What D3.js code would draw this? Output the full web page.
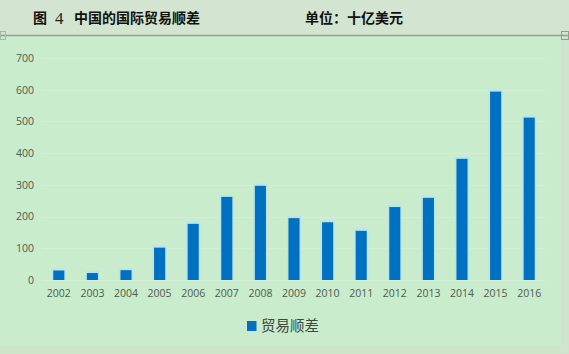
<!DOCTYPE html>
<html><head><meta charset="utf-8">
<script src="https://cdn.jsdelivr.net/npm/d3@7/dist/d3.min.js"></script>
<style>
html,body{margin:0;padding:0;background:#d2e6cf;}
svg{display:block;}
</style></head>
<body>
<svg id="chart" width="569" height="354"></svg>
<script>
const years = ["2002","2003","2004","2005","2006","2007","2008","2009","2010","2011","2012","2013","2014","2015","2016"];
const surplus = [30, 22, 31, 102, 177, 262, 297, 195, 182, 155, 230, 259, 382, 594, 512];
const yTicks = [0,100,200,300,400,500,600,700];
const seriesName = "贸易顺差";
const titleFig = "图";
const titleNum = "4";
const titleMain = "中国的国际贸易顺差";
const titleRight = "单位：十亿美元";

const svg = d3.select("#chart");
// top band
svg.append("rect").attr("x",0).attr("y",0).attr("width",569).attr("height",35).attr("fill","#d3e5d0");
// chart area
svg.append("rect").attr("x",0).attr("y",36).attr("width",561).attr("height",310).attr("fill","#c8eccc");
svg.append("rect").attr("x",561).attr("y",36).attr("width",8).attr("height",318).attr("fill","#d0e3cc");
svg.append("rect").attr("x",0).attr("y",346).attr("width",561).attr("height",8).attr("fill","#cde6cb");
// separator line
svg.append("line").attr("x1",0).attr("x2",569).attr("y1",35.5).attr("y2",35.5).attr("stroke","#8f9f8e").attr("stroke-width",1.5);
svg.append("rect").attr("x",0.5).attr("y",31.5).attr("width",5).attr("height",8).attr("fill","none").attr("stroke","#a9b6a8");
svg.append("rect").attr("x",561.5).attr("y",31.5).attr("width",7).attr("height",8).attr("fill","none").attr("stroke","#8f9f8e");

// titles
const cjk = "'Noto Sans CJK SC', sans-serif";
svg.append("text").attr("x",33).attr("y",23).attr("font-family",cjk)
  .attr("font-weight","bold").attr("font-size",14).attr("fill","#111").text(titleFig);
svg.append("text").attr("x",55).attr("y",24).attr("font-family","'Liberation Serif', 'DejaVu Serif', serif")
  .attr("font-size",17).attr("fill","#222").text(titleNum);
svg.append("text").attr("x",74).attr("y",23).attr("font-family",cjk)
  .attr("font-weight","bold").attr("font-size",14).attr("fill","#111").text(titleMain);
svg.append("text").attr("x",305).attr("y",23).attr("font-family",cjk)
  .attr("font-weight","bold").attr("font-size",14).attr("fill","#111").text(titleRight);

const x = d3.scaleBand().domain(years).range([42,546]).paddingInner(0.67).paddingOuter(0.335);
const y = d3.scaleLinear().domain([0,700]).range([280,58]);

// grid
const g = svg.append("g");
g.selectAll("line.grid").data(yTicks.slice(1)).join("line")
  .attr("x1",42).attr("x2",546).attr("y1",d=>Math.round(y(d))+0.5).attr("y2",d=>Math.round(y(d))+0.5)
  .attr("stroke","#d6ecd6").attr("stroke-width",1);
g.append("line").attr("x1",42).attr("x2",546).attr("y1",280.5).attr("y2",280.5).attr("stroke","#d6ecd6");

// y axis labels
const yAxis = d3.axisLeft(y).tickValues(yTicks).tickSize(0).tickPadding(0);
const ya = svg.append("g").attr("transform","translate(34,0)").call(yAxis);
ya.select(".domain").remove();
ya.selectAll("text").attr("font-family","'Open Sans', 'Noto Sans', sans-serif").attr("font-size",10.5).attr("fill","#505a50");

// x axis labels
const xAxis = d3.axisBottom(x).tickSize(0).tickPadding(0);
const xa = svg.append("g").attr("transform","translate(0,290)").call(xAxis);
xa.select(".domain").remove();
xa.selectAll("text").attr("font-family","'Open Sans', 'Noto Sans', sans-serif").attr("font-size",10.5).attr("fill","#505a50");

// bars halo
svg.selectAll("rect.halo").data(years).join("rect").attr("class","halo")
  .attr("x",(d)=>x(d)-1.5).attr("width",x.bandwidth()+3)
  .attr("y",(d,i)=>y(surplus[i])-2).attr("height",(d,i)=>280-y(surplus[i])+2)
  .attr("fill","#b8e6ee");
svg.selectAll("rect.bar").data(years).join("rect").attr("class","bar")
  .attr("x",d=>x(d)).attr("width",x.bandwidth())
  .attr("y",(d,i)=>y(surplus[i])).attr("height",(d,i)=>280-y(surplus[i]))
  .attr("fill","#0070c0");

// legend
svg.append("rect").attr("x",247).attr("y",321).attr("width",9.5).attr("height",10).attr("fill","#0070c0");
svg.append("text").attr("x",261).attr("y",331).attr("font-family",cjk)
  .attr("font-size",14.5).attr("fill","#404840").text(seriesName);
</script>
</body></html>
